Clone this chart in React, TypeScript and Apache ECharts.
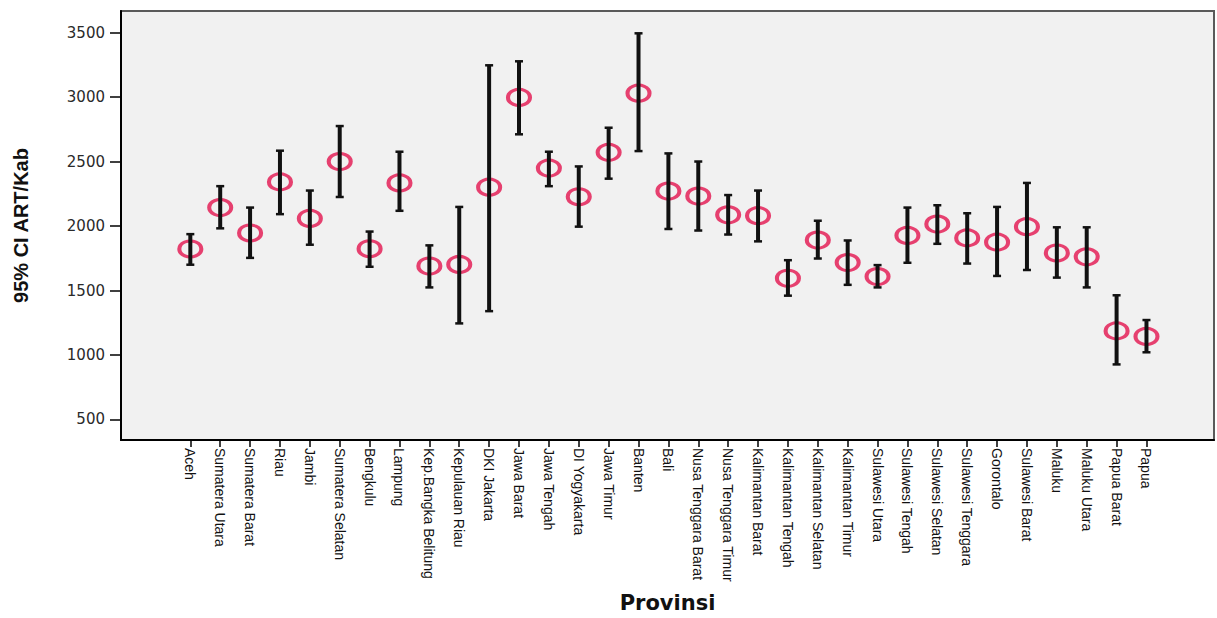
import React, { useEffect, useRef } from "react";
import * as echarts from "echarts";

const provinces: string[] = [
  "Aceh", "Sumatera Utara", "Sumatera Barat", "Riau", "Jambi", "Sumatera Selatan",
  "Bengkulu", "Lampung", "Kep.Bangka Belitung", "Kepulauan Riau", "DKI Jakarta",
  "Jawa Barat", "Jawa Tengah", "DI Yogyakarta", "Jawa Timur", "Banten", "Bali",
  "Nusa Tenggara Barat", "Nusa Tenggara Timur", "Kalimantan Barat", "Kalimantan Tengah",
  "Kalimantan Selatan", "Kalimantan Timur", "Sulawesi Utara", "Sulawesi Tengah",
  "Sulawesi Selatan", "Sulawesi Tenggara", "Gorontalo", "Sulawesi Barat", "Maluku",
  "Maluku Utara", "Papua Barat", "Papua",
];

const meanValues: number[] = [
  1822, 2143, 1946, 2342, 2059, 2500, 1824, 2334, 1690, 1702, 2301,
  2997, 2449, 2227, 2571, 3030, 2271, 2232, 2087, 2080, 1595,
  1891, 1717, 1608, 1927, 2015, 1908, 1875, 1995, 1791, 1761, 1187, 1144,
];

const lowerValues: number[] = [
  1700, 1982, 1753, 2092, 1855, 2225, 1684, 2118, 1524, 1245, 1340,
  2711, 2309, 1995, 2367, 2581, 1977, 1965, 1934, 1881, 1460,
  1748, 1544, 1524, 1715, 1862, 1709, 1613, 1659, 1600, 1524, 927, 1021,
];

const upperValues: number[] = [
  1937, 2309, 2143, 2584, 2275, 2775, 1957, 2576, 1850, 2148, 3246,
  3277, 2576, 2462, 2762, 3494, 2563, 2500, 2240, 2275, 1735,
  2041, 1888, 1697, 2143, 2161, 2099, 2148, 2334, 1990, 1990, 1463, 1271,
];

const yTicks: number[] = [500, 1000, 1500, 2000, 2500, 3000, 3500];

export default function App() {
  const ref = useRef<HTMLDivElement>(null);

  useEffect(() => {
    if (!ref.current) return;
    const chart = echarts.init(ref.current, null, { renderer: "svg" });
    const idx = provinces.map((_, i) => i);
    const barData = provinces.map((_, i) => [i, lowerValues[i], upperValues[i]]);
    const meanData = provinces.map((_, i) => [i, meanValues[i]]);

    chart.setOption({
      animation: false,
      backgroundColor: "#ffffff",
      grid: {
        left: 121,
        top: 11,
        right: 3,
        bottom: 172,
        show: true,
        backgroundColor: "#f1f1f1",
        borderColor: "#5a5a5a",
        borderWidth: 2,
      },
      xAxis: {
        type: "value",
        min: -2.32,
        max: 34.26,
        splitLine: { show: false },
        axisLine: { show: true, onZero: false, lineStyle: { color: "#000", width: 2 } },
        axisTick: { show: true, customValues: idx, length: 7, lineStyle: { color: "#000", width: 1.5 } },
        axisLabel: {
          customValues: idx,
          rotate: -90,
          margin: 8,
          formatter: (v: number) => provinces[Math.round(v)] ?? "",
          fontFamily: "'Liberation Sans Narrow', 'Liberation Sans', Arial, sans-serif",
          fontSize: 14,
          color: "#111",
        },
        name: "Provinsi",
        nameLocation: "middle",
        nameGap: 152,
        nameTextStyle: {
          fontFamily: "'DejaVu Sans', sans-serif",
          fontWeight: "bold",
          fontSize: 21,
          color: "#111",
        },
      },
      yAxis: {
        type: "value",
        min: 341,
        max: 3667,
        splitLine: { show: false },
        axisLine: { show: true, onZero: false, lineStyle: { color: "#000", width: 2 } },
        axisTick: { show: true, customValues: yTicks, length: 11, lineStyle: { color: "#000", width: 1.5 } },
        axisLabel: {
          customValues: yTicks,
          margin: 16,
          formatter: (v: number) => String(Math.round(v)),
          fontFamily: "'DejaVu Sans', sans-serif",
          fontSize: 15,
          color: "#2a2a2a",
        },
        name: "95% CI ART/Kab",
        nameLocation: "middle",
        nameRotate: 90,
        nameGap: 90,
        nameTextStyle: {
          fontFamily: "'Liberation Sans', Arial, sans-serif",
          fontWeight: "bold",
          fontSize: 20,
          color: "#111",
        },
      },
      series: [
        {
          type: "scatter",
          data: meanData,
          symbol: "circle",
          symbolSize: [22, 16],
          itemStyle: { color: "rgba(0,0,0,0)", borderColor: "#e3144f", borderWidth: 3.5 },
          z: 2,
        },
        {
          type: "custom",
          data: barData,
          z: 3,
          renderItem: (params: any, api: any) => {
            const x = api.value(0);
            const lo = api.coord([x, api.value(1)]);
            const hi = api.coord([x, api.value(2)]);
            const cap = 4;
            const style = { stroke: "#111", lineWidth: 4 };
            return {
              type: "group",
              children: [
                { type: "line", shape: { x1: lo[0], y1: lo[1], x2: hi[0], y2: hi[1] }, style },
                { type: "line", shape: { x1: hi[0] - cap, y1: hi[1], x2: hi[0] + cap, y2: hi[1] }, style: { stroke: "#111", lineWidth: 2.5 } },
                { type: "line", shape: { x1: lo[0] - cap, y1: lo[1], x2: lo[0] + cap, y2: lo[1] }, style: { stroke: "#111", lineWidth: 2.5 } },
              ],
            };
          },
        },
      ],
    });

    return () => chart.dispose();
  }, []);

  return (
    <div
      ref={ref}
      style={{ position: "fixed", left: 0, top: 0, width: 1217, height: 618 }}
    />
  );
}
